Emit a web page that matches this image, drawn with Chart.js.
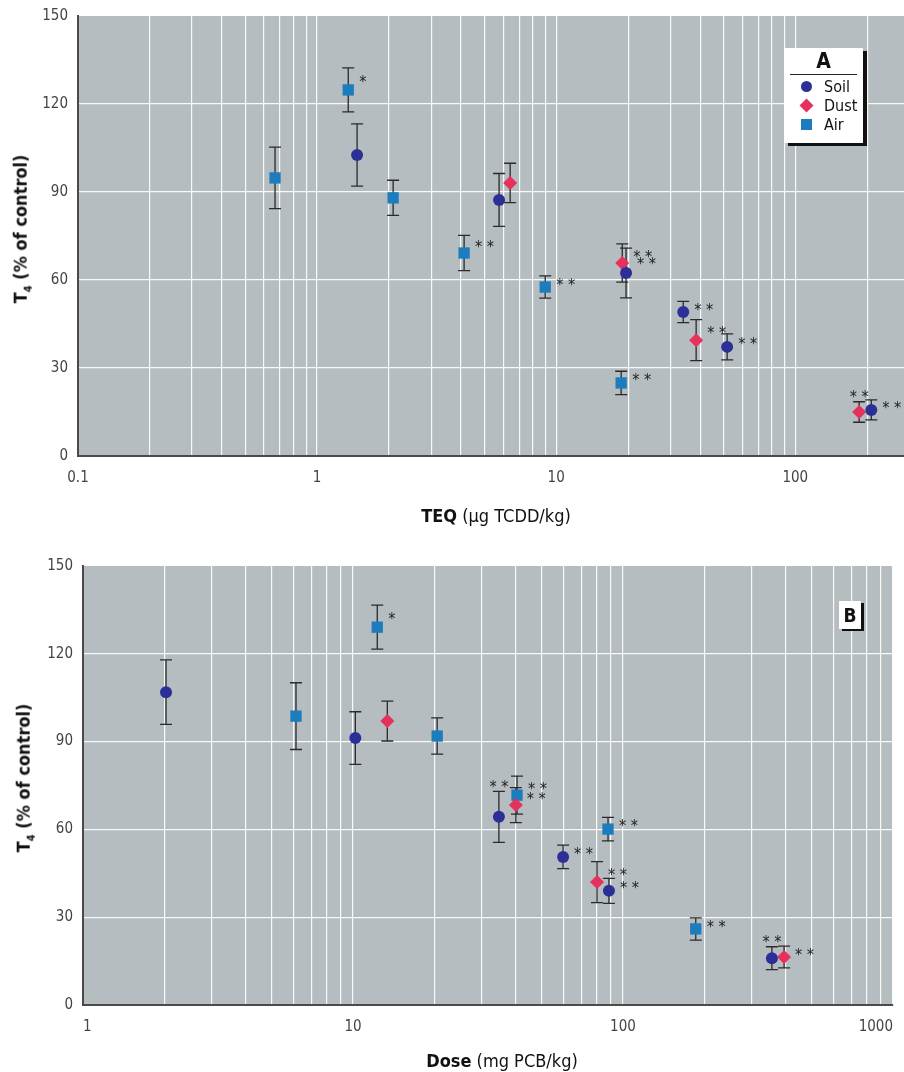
<!DOCTYPE html>
<html>
<head>
<meta charset="utf-8">
<script src="https://cdn.jsdelivr.net/npm/chart.js@4.4.1/dist/chart.umd.min.js"></script>
<style>
  body { margin: 0; background: #fff; width: 904px; height: 1072px; position: relative; overflow: hidden;
         font-family: 'Liberation Sans Narrow', 'DejaVu Sans Condensed', 'Roboto', sans-serif; color: #111; }
  .panel { position: absolute; left: 0; width: 904px; }
  #panelA { top: 0; height: 540px; }
  #panelB { top: 540px; height: 532px; }
  .ytitle { position: absolute; transform: translate(-50%, -50%) rotate(-90deg); white-space: nowrap;
            font-weight: bold; font-size: 18px; }
  .ytitle sub { font-size: 11px; }
  .xtitle { position: absolute; transform: translate(-50%, -50%); white-space: nowrap; font-size: 18px; }
  .xtitle b { font-weight: bold; }
  .legend { position: absolute; background: #fff; box-shadow: 4px 3px 0 #111; }
  .legend .head { font-weight: bold; font-size: 21px; text-align: center; margin: 0 6px; border-bottom: 1.5px solid #222; line-height: 26px; }
  .legend .row { position: relative; height: 19px; font-size: 16px; line-height: 19px; padding-left: 40px; }
  .mk { position: absolute; left: 17px; top: 4px; width: 11px; height: 11px; }
  .mk.soil { background: #2b2f96; border-radius: 50%; }
  .mk.dust { background: #e5315c; transform: rotate(45deg) scale(0.9); }
  .mk.air { background: #1c7cbd; }
  .tag { position: absolute; background: #fff; box-shadow: 3px 2px 0 #111; font-weight: bold; font-size: 19px;
         text-align: center; line-height: 28px; }
</style>
</head>
<body>

<div class="panel" id="panelA"><canvas id="chartA" width="904" height="540"></canvas></div>
<div class="panel" id="panelB"><canvas id="chartB" width="904" height="532"></canvas></div>

<div class="ytitle" style="left:22px; top:229px;">T<sub>4</sub> (% of control)</div>
<div class="xtitle" style="left:496px; top:515px;"><b>TEQ</b> (μg TCDD/kg)</div>
<div class="legend" style="left:784px; top:48px; width:79px; height:95px;">
  <div class="head">A</div>
  <div class="row" style="margin-top:2px"><span class="mk soil"></span>Soil</div>
  <div class="row"><span class="mk dust"></span>Dust</div>
  <div class="row"><span class="mk air"></span>Air</div>
</div>

<div class="ytitle" style="left:25px; top:778px;">T<sub>4</sub> (% of control)</div>
<div class="xtitle" style="left:502px; top:1060px;"><b>Dose</b> (mg PCB/kg)</div>
<div class="tag" style="left:839px; top:601px; width:22px; height:28px;">B</div>

<script>
// ---------------- Panel A: TEQ (µg TCDD/kg) ----------------
const soilA_x   = [1.47, 5.77, 19.6, 34, 51.9, 208];
const soilA_y   = [102.6, 87.3, 62.4, 49.1, 37.2, 15.7];
const soilA_err = [10.6, 9, 8.5, 3.6, 4.4, 3.4];
const soilA_sig = ['', '', '**', '**', '**', '**'];

const dustA_x   = [6.42, 18.9, 38.5, 185];
const dustA_y   = [93.1, 65.8, 39.5, 15];
const dustA_err = [6.7, 6.5, 7, 3.5];
const dustA_sig = ['', '**', '**', '**'];

const airA_x    = [0.667, 1.35, 2.08, 4.12, 9.0, 18.7];
const airA_y    = [94.8, 124.8, 88, 69.2, 57.6, 24.9];
const airA_err  = [10.5, 7.5, 6, 6, 3.8, 4];
const airA_sig  = ['', '*', '', '**', '**', '**'];

// ---------------- Panel B: Dose (mg PCB/kg) ----------------
const soilB_x   = [2.03, 10.2, 34.7, 60, 88.7, 356];
const soilB_y   = [106.9, 91.2, 64.3, 50.6, 39, 16];
const soilB_err = [11, 9, 8.7, 4, 4.3, 3.9];
const soilB_sig = ['', '', '**', '**', '**', '**'];

const dustB_x   = [13.4, 40.1, 80.1, 395];
const dustB_y   = [97, 68.3, 42, 16.4];
const dustB_err = [6.8, 6, 7, 3.7];
const dustB_sig = ['', '**', '**', '**'];

const airB_x    = [6.15, 12.3, 20.5, 40.5, 88, 186];
const airB_y    = [98.7, 129.1, 91.9, 71.7, 60.1, 26];
const airB_err  = [11.4, 7.5, 6.2, 6.5, 4, 3.8];
const airB_sig  = ['', '*', '', '**', '**', '**'];

const yTicks = [0, 30, 60, 90, 120, 150];

// where the significance stars sit: 'r' = right of the point, 'u' = above the error bar
const soilA_place = ['r', 'r', 'r', 'r', 'r', 'r'];
const dustA_place = ['r', 'r', 'r', 'u'];
const airA_place  = ['r', 'r', 'r', 'r', 'r', 'r'];
const soilB_place = ['r', 'r', 'u', 'r', 'r', 'u'];
const dustB_place = ['r', 'r', 'r', 'r'];
const airB_place  = ['r', 'r', 'r', 'r', 'r', 'r'];

const FONT = "'Liberation Sans Narrow', 'DejaVu Sans Condensed', 'Roboto', sans-serif";
const COLORS = { soil: '#2b2f96', dust: '#e5315c', air: '#1c7cbd' };

function points(xs, ys, errs, sig, place) {
  return xs.map((x, i) => ({ x: x, y: ys[i], err: errs[i], sig: sig[i], place: place[i] }));
}

function logTicks(min, max) {
  const out = [];
  for (let e = Math.floor(Math.log10(min)); e <= Math.ceil(Math.log10(max)); e++) {
    for (let m = 1; m <= 9; m++) {
      const v = Number((m * Math.pow(10, e)).toPrecision(6));
      if (v >= min && v <= max) out.push({ value: v });
    }
  }
  return out;
}

const plotBg = {
  id: 'plotBg',
  beforeDraw(chart) {
    const { ctx, chartArea: a } = chart;
    ctx.save();
    ctx.fillStyle = '#b5bdc0';
    ctx.fillRect(a.left, a.top, a.right - a.left, a.bottom - a.top);
    ctx.restore();
  }
};

const errorBars = {
  id: 'errorBars',
  beforeDatasetsDraw(chart) {
    const { ctx, scales: { x, y } } = chart;
    ctx.save();
    ctx.strokeStyle = '#2a2a2a';
    ctx.lineWidth = 1.3;
    chart.data.datasets.forEach(ds => {
      ds.data.forEach(p => {
        const px = x.getPixelForValue(p.x);
        const top = y.getPixelForValue(p.y + p.err);
        const bot = y.getPixelForValue(p.y - p.err);
        ctx.beginPath();
        ctx.moveTo(px, top); ctx.lineTo(px, bot);
        ctx.moveTo(px - 6, top); ctx.lineTo(px + 6, top);
        ctx.moveTo(px - 6, bot); ctx.lineTo(px + 6, bot);
        ctx.stroke();
      });
    });
    ctx.restore();
  },
  afterDatasetsDraw(chart) {
    const { ctx, scales: { x, y } } = chart;
    ctx.save();
    ctx.fillStyle = '#222';
    ctx.font = '16px ' + FONT;
    ctx.textBaseline = 'middle';
    chart.data.datasets.forEach(ds => {
      ds.data.forEach(p => {
        if (!p.sig) return;
        const txt = p.sig.split('').join(' ');
        const px = x.getPixelForValue(p.x);
        const py = y.getPixelForValue(p.y);
        const top = y.getPixelForValue(p.y + p.err);
        if (p.place === 'u') {
          ctx.textAlign = 'center';
          ctx.fillText(txt, px, top - 4);
        } else {
          ctx.textAlign = 'left';
          ctx.fillText(txt, px + 11, (py + top) / 2 + 4);
        }
      });
    });
    ctx.restore();
  }
};

function makeChart(id, sets, xMin, xMax, axisW, axisH, pad, tickAlign) {
  const ds = [
    { label: 'Soil', data: sets.soil, pointStyle: 'circle', radius: 6, backgroundColor: COLORS.soil },
    { label: 'Dust', data: sets.dust, pointStyle: 'rectRot', radius: 7, backgroundColor: COLORS.dust },
    { label: 'Air', data: sets.air, pointStyle: 'rect', radius: 8, backgroundColor: COLORS.air }
  ].map(d => Object.assign(d, { borderWidth: 0, pointRadius: d.radius, pointHoverRadius: d.radius, showLine: false }));

  return new Chart(document.getElementById(id), {
    type: 'scatter',
    data: { datasets: ds },
    plugins: [plotBg, errorBars],
    options: {
      responsive: false,
      animation: false,
      layout: { padding: pad, autoPadding: false },
      plugins: { legend: { display: false }, tooltip: { enabled: false } },
      scales: {
        x: {
          type: 'logarithmic', min: xMin, max: xMax,
          afterBuildTicks: s => { s.ticks = logTicks(xMin, xMax); },
          afterFit: s => { s.height = axisH; s.paddingLeft = 0; s.paddingRight = 0; },
          grid: { color: 'rgba(255,255,255,0.9)', lineWidth: 1.2, drawTicks: false },
          border: { display: true, color: '#4a4a4a', width: 2 },
          ticks: {
            autoSkip: false, maxRotation: 0, padding: 13, color: '#444', align: tickAlign,
            font: { family: FONT, size: 15 },
            callback: v => {
              const l = Math.log10(v);
              return Math.abs(l - Math.round(l)) < 1e-6 ? String(v) : '';
            }
          }
        },
        y: {
          min: 0, max: 150,
          afterBuildTicks: s => { s.ticks = yTicks.map(v => ({ value: v })); },
          afterFit: s => { s.width = axisW; s.paddingTop = 0; s.paddingBottom = 0; },
          grid: {
            color: c => (c.tick.value === 150 ? 'rgba(0,0,0,0)' : 'rgba(255,255,255,0.9)'),
            lineWidth: 1.2, drawTicks: false
          },
          border: { display: true, color: '#4a4a4a', width: 2 },
          ticks: { padding: 10, color: '#444', font: { family: FONT, size: 15 } }
        }
      }
    }
  });
}

makeChart('chartA', {
  soil: points(soilA_x, soilA_y, soilA_err, soilA_sig, soilA_place),
  dust: points(dustA_x, dustA_y, dustA_err, dustA_sig, dustA_place),
  air:  points(airA_x, airA_y, airA_err, airA_sig, airA_place)
}, 0.1, 285, 78, 84, { top: 16, right: 0, left: 0, bottom: 0 }, 'center');

makeChart('chartB', {
  soil: points(soilB_x, soilB_y, soilB_err, soilB_sig, soilB_place),
  dust: points(dustB_x, dustB_y, dustB_err, dustB_sig, dustB_place),
  air:  points(airB_x, airB_y, airB_err, airB_sig, airB_place)
}, 1, 1000, 83, 67, { top: 26, right: 11, left: 0, bottom: 0 }, 'inner');
</script>
</body>
</html>
